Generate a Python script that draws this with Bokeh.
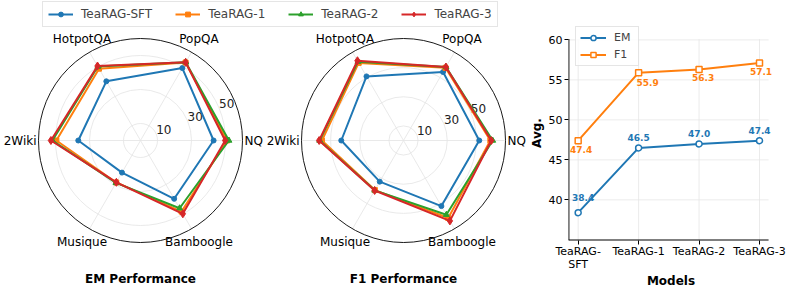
import numpy as np
from bokeh.plotting import figure
from bokeh.models import Range1d, Legend, LegendItem, FixedTicker
from bokeh.layouts import row
from bokeh.embed import file_html
from bokeh.resources import INLINE
from bokeh.core.properties import value

# ---------------- data ----------------
categories = ["NQ", "PopQA", "HotpotQA", "2Wiki", "Musique", "Bamboogle"]
series_names = ["TeaRAG-SFT", "TeaRAG-1", "TeaRAG-2", "TeaRAG-3"]

em_sft = [43.0, 49.2, 40.2, 36.6, 21.8, 39.6]
em_r1 = [50.9, 53.0, 48.8, 49.5, 28.5, 48.3]
em_r2 = [52.0, 53.2, 50.2, 51.8, 28.8, 46.0]
em_r3 = [49.8, 53.1, 50.6, 52.7, 28.4, 49.8]

f1_sft = [52.0, 54.3, 50.8, 42.7, 32.6, 52.0]
f1_r1 = [59.6, 57.6, 61.5, 56.0, 39.3, 61.4]
f1_r2 = [61.2, 58.3, 62.5, 57.5, 39.5, 58.8]
f1_r3 = [60.2, 58.2, 63.2, 57.9, 39.6, 63.7]

em_rmax = 60
f1_rmax = 70
radial_ticks = [10, 30, 50]

models = ["TeaRAG-SFT", "TeaRAG-1", "TeaRAG-2", "TeaRAG-3"]
model_tick_labels = ["TeaRAG-\nSFT", "TeaRAG-1", "TeaRAG-2", "TeaRAG-3"]
em_avg = [38.4, 46.5, 47.0, 47.4]
f1_avg = [47.4, 55.9, 56.3, 57.1]
avg_yticks = [40, 45, 50, 55, 60]

# ---------------- style ----------------
FONT = "DejaVu Sans"
colors = ["#1f77b4", "#ff7f0e", "#2ca02c", "#d62728"]
markers = ["circle", "square", "triangle", "diamond"]
msizes = [5, 5, 6, 8]
GRID = "#e3e3e3"
R = 102.0  # radar radius in px
H = 290

W1 = 526
p1 = figure(width=W1, height=H, x_range=Range1d(0, W1), y_range=Range1d(0, H),
            output_backend="svg", toolbar_location=None, min_border=0, title=None,
            x_axis_type=None, y_axis_type=None)
p1.frame_align = False
p1.grid.visible = False
p1.outline_line_color = None


def py(page_y):
    return H - page_y


def draw_radar(p, cx, cy, rmax, series, title):
    n = len(categories)
    scale = R / rmax
    ang = np.deg2rad(np.arange(n) * 360.0 / n)
    p.circle(x=[cx] * len(radial_ticks), y=[cy] * len(radial_ticks),
             radius=[t * scale for t in radial_ticks],
             fill_color=None, line_color=GRID, line_width=0.8)
    p.segment(x0=[cx] * n, y0=[cy] * n, x1=cx + R * np.cos(ang), y1=cy + R * np.sin(ang),
              line_color=GRID, line_width=0.8)
    p.circle(x=[cx], y=[cy], radius=[R], fill_color=None, line_color="black", line_width=0.9)
    a = np.deg2rad(22.5)
    p.text(x=[cx + t * scale * np.cos(a) for t in radial_ticks],
           y=[cy + t * scale * np.sin(a) for t in radial_ticks],
           text=[str(t) for t in radial_ticks], text_align="left", text_baseline="bottom",
           text_font=value(FONT), text_font_size=value("12px"), text_color="#222222")
    for i, c in enumerate(categories):
        ca, sa = np.cos(ang[i]), np.sin(ang[i])
        if abs(sa) < 0.01:
            p.text(x=[cx + (R + 2) * ca], y=[cy], text=[c],
                   text_align="left" if ca > 0 else "right", text_baseline="middle",
                   text_font=value(FONT), text_font_size=value("12px"), text_color="black")
        else:
            p.text(x=[cx + (R + 15) * ca], y=[cy + (R + 15) * sa], text=[c],
                   text_align="center", text_baseline="middle",
                   text_font=value(FONT), text_font_size=value("12px"), text_color="black")
    rends = []
    for vals, col, mk, ms in zip(series, colors, markers, msizes):
        r = np.array(vals) * scale
        xs = cx + r * np.cos(ang)
        ys = cy + r * np.sin(ang)
        lr = p.line(np.append(xs, xs[0]), np.append(ys, ys[0]), line_color=col, line_width=2)
        sr = p.scatter(xs, ys, marker=mk, size=ms, fill_color=col, line_color=col)
        rends.append((lr, sr))
    p.text(x=[cx], y=[py(278)], text=[title], text_align="center", text_baseline="middle",
           text_font=value(FONT), text_font_size=value("12px"), text_font_style="bold",
           text_color="black")
    return rends


em_rends = draw_radar(p1, 140, py(140), em_rmax, [em_sft, em_r1, em_r2, em_r3], "EM Performance")
f1_rends = draw_radar(p1, 403, py(140), f1_rmax, [f1_sft, f1_r1, f1_r2, f1_r3], "F1 Performance")

items = [LegendItem(label=nm, renderers=[em_rends[i][0], em_rends[i][1]])
         for i, nm in enumerate(series_names)]
leg1 = Legend(items=items, orientation="horizontal", location=(42, py(27)),
              glyph_width=25, glyph_height=12, label_height=12, label_standoff=8,
              spacing=23, padding=5, margin=0,
              label_text_font=FONT, label_text_font_size="12px",
              border_line_color="#cccccc", border_line_width=1,
              background_fill_alpha=0.8)
p1.add_layout(leg1)

# ---------------- line chart ----------------
W2 = 793 - W1
x_lo, x_axes_hi, x_frame_hi = -0.16, 3.15, 3.2315
y_lo, y_axes_top, y_frame_top = 34.92, 60.1, 61.8
p2 = figure(width=W2, height=H, x_range=Range1d(x_lo, x_frame_hi), y_range=Range1d(y_lo, y_frame_top),
            output_backend="svg", toolbar_location=None, title=None,
            min_border_left=565 - W1, min_border_right=20, min_border_top=25, min_border_bottom=50)
p2.frame_align = False
p2.outline_line_color = None
xi = list(range(len(models)))

# axes box pieces (matplotlib-like spines and vertical grid that stop at the axes edges)
p2.segment(x0=xi, y0=[y_lo] * len(xi), x1=xi, y1=[y_axes_top] * len(xi),
           line_color="#e6e6e6", line_width=0.8)
p2.segment(x0=[x_lo] * len(avg_yticks), y0=avg_yticks, x1=[x_axes_hi] * len(avg_yticks), y1=avg_yticks,
           line_color="#e6e6e6", line_width=0.8)
p2.segment(x0=[x_lo, x_lo], y0=[y_lo, y_lo], x1=[x_lo, x_axes_hi], y1=[y_axes_top, y_lo],
           line_color="black", line_width=1.8)

l_em = p2.line(xi, em_avg, line_color=colors[0], line_width=2)
s_em = p2.scatter(xi, em_avg, marker="circle", size=6, fill_color="white", line_color=colors[0], line_width=1.5)
l_f1 = p2.line(xi, f1_avg, line_color=colors[1], line_width=2)
s_f1 = p2.scatter(xi, f1_avg, marker="square", size=6, fill_color="white", line_color=colors[1], line_width=1.5)

em_lab_dx = [5, 0, 0, 0]
em_lab_dy = [-15, -10, -10.5, -10.5]
f1_lab_dx = [3, 9, 4, 1.5]
f1_lab_dy = [8.5, 9.5, 8.5, 8.5]
p2.text(x=xi, y=em_avg, text=[f"{v:.1f}" for v in em_avg], x_offset=em_lab_dx, y_offset=em_lab_dy,
        text_align="center", text_baseline="middle", text_font=value(FONT),
        text_font_size=value("9px"), text_font_style="bold", text_color=colors[0])
p2.text(x=xi, y=f1_avg, text=[f"{v:.1f}" for v in f1_avg], x_offset=f1_lab_dx, y_offset=f1_lab_dy,
        text_align="center", text_baseline="middle", text_font=value(FONT),
        text_font_size=value("9px"), text_font_style="bold", text_color=colors[1])

p2.xaxis.ticker = FixedTicker(ticks=xi)
p2.xaxis.major_label_overrides = {i: lbl for i, lbl in enumerate(model_tick_labels)}
p2.yaxis.ticker = FixedTicker(ticks=avg_yticks)
p2.grid.visible = False
for ax in (p2.xaxis, p2.yaxis):
    ax.axis_line_color = None
    ax.major_tick_line_color = "black"
    ax.major_tick_in = 0
    ax.major_tick_out = 4
    ax.minor_tick_line_color = None
    ax.major_label_text_font = FONT
    ax.major_label_text_font_size = "11px"
    ax.major_label_text_color = "black"
    ax.axis_label_text_font = FONT
    ax.axis_label_text_font_size = "12px"
    ax.axis_label_text_font_style = "bold"
    ax.axis_label_text_color = "black"
p2.yaxis.major_label_standoff = 2
p2.yaxis.axis_label_standoff = 2
p2.xaxis.major_label_standoff = 0
p2.xaxis.axis_label_standoff = 0
p2.xaxis.major_label_text_line_height = 1.0
p2.xaxis.axis_label = "Models"
p2.yaxis.axis_label = "Avg."

leg2 = Legend(items=[LegendItem(label="EM", renderers=[l_em, s_em]),
                     LegendItem(label="F1", renderers=[l_f1, s_f1])],
              location=(7, 240 - 66), glyph_width=26, glyph_height=13, label_height=13,
              label_standoff=8, spacing=4, padding=4, margin=0,
              label_text_font=FONT, label_text_font_size="11px",
              border_line_color="#cccccc", border_line_width=1, background_fill_alpha=0.8)
p2.add_layout(leg2)

layout = row(p1, p2, spacing=0)
open("out.html", "w").write(file_html(layout, INLINE))
